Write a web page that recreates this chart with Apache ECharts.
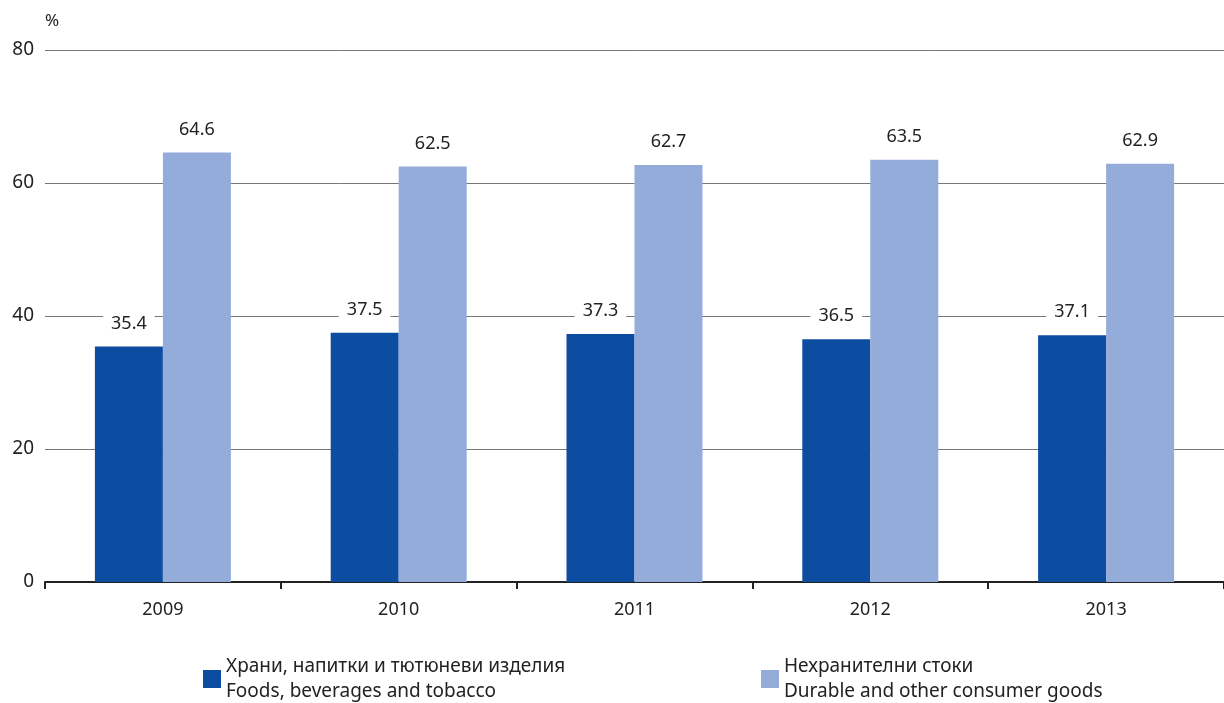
<!DOCTYPE html>
<html><head><meta charset="utf-8">
<script src="https://cdn.jsdelivr.net/npm/echarts@6/dist/echarts.min.js"></script>
<style>html,body{margin:0;padding:0;background:#fff}#c{width:1224px;height:703px}</style>
</head><body><div id="c"></div>
<script>
const categories = ['2009','2010','2011','2012','2013'];
const foods = [35.4, 37.5, 37.3, 36.5, 37.1];
const durable = [64.6, 62.5, 62.7, 63.5, 62.9];
const yTicks = [0, 20, 40, 60, 80];
const nameFoods = 'Храни, напитки и тютюневи изделия\nFoods, beverages and tobacco';
const nameDurable = 'Нехранителни стоки\nDurable and other consumer goods';

const font = 'Noto Sans';
const chart = echarts.init(document.getElementById('c'), null, {renderer:'canvas'});
const labelCfg = {
  show: true, position: 'top', distance: 14,
  fontFamily: font, fontSize: 18, color: '#222',
  backgroundColor: '#fff', padding: [2, 8, 0, 8],
  formatter: p => p.value.toFixed(1)
};
const legendText = {fontFamily: font, fontSize: 19, color: '#222', lineHeight: 25};
chart.setOption({
  animation: false,
  grid: {left: 45, top: 50, width: 1183, height: 532, containLabel: false},
  legend: [
    {data: [nameFoods], left: 198, top: 649, itemWidth: 18, itemHeight: 18, itemGap: 10,
     icon: 'rect', textStyle: legendText},
    {data: [nameDurable], left: 756, top: 649, itemWidth: 18, itemHeight: 18, itemGap: 10,
     icon: 'rect', textStyle: legendText}
  ],
  xAxis: {
    type: 'category', data: categories,
    axisLine: {lineStyle: {color: '#222', width: 2}},
    axisTick: {show: true, length: 7, lineStyle: {color: '#222', width: 2}},
    axisLabel: {fontFamily: font, fontSize: 18, color: '#222', margin: 19}
  },
  yAxis: {
    type: 'value', min: 0, max: 80, interval: 20,
    name: '%', nameGap: 20, nameTextStyle: {fontFamily: font, fontSize: 17, color: '#222', align: 'left', padding: [0, 0, 0, 0]},
    axisLine: {show: false}, axisTick: {show: false},
    axisLabel: {fontFamily: font, fontSize: 19, color: '#222', margin: 11,
      formatter: v => yTicks.includes(v) ? String(v) : ''},
    splitLine: {lineStyle: {color: '#777', width: 1}}
  },
  series: [
    {name: nameFoods, type: 'bar', data: foods, barWidth: 68, barGap: '0%',
     itemStyle: {color: '#0c4da2'}, label: labelCfg},
    {name: nameDurable, type: 'bar', data: durable, barWidth: 68, barGap: '0%',
     itemStyle: {color: '#94acd9'}, label: labelCfg}
  ]
});
</script></body></html>
